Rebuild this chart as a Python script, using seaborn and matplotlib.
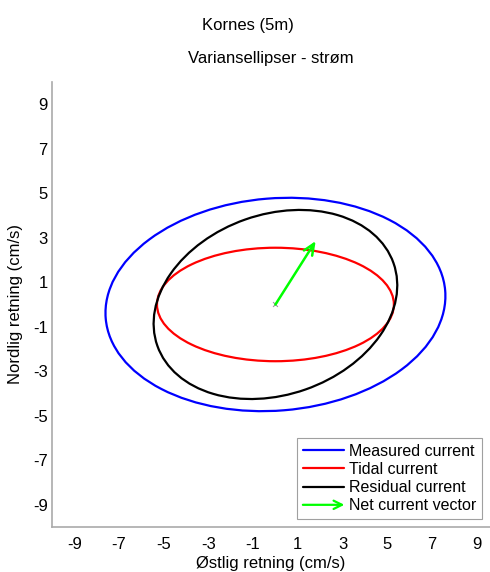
import numpy as np
import pandas as pd
import matplotlib
matplotlib.use('Agg')
import matplotlib.pyplot as plt
import seaborn as sns
from matplotlib.patches import Ellipse, FancyArrowPatch
from matplotlib.lines import Line2D
from matplotlib.legend_handler import HandlerLine2D

# variance ellipses (cm/s): semi-major, semi-minor, orientation (deg)
names = ['Measured current', 'Tidal current', 'Residual current']
colors = ['#0000ff', '#ff0000', '#000000']
semi_major = [7.62, 5.3, 5.6]
semi_minor = [4.77, 2.55, 4.05]
angle_deg = [4.7, 0.0, 19.4]

# net current vector
net_u = 1.8
net_v = 2.85

ticks = [-9, -7, -5, -3, -1, 1, 3, 5, 7, 9]

sns.set_style('white')
plt.rcParams['font.family'] = ['Liberation Sans', 'DejaVu Sans']
plt.rcParams['axes.unicode_minus'] = False
plt.rcParams['text.color'] = 'black'
plt.rcParams['axes.labelcolor'] = 'black'
plt.rcParams['xtick.color'] = 'black'
plt.rcParams['ytick.color'] = 'black'

fig = plt.figure(figsize=(4.9, 5.72), dpi=100)
ax = fig.add_axes([0.106, 0.0787, 0.894, 0.778])

for name, c, a, b, ang in zip(names, colors, semi_major, semi_minor, angle_deg):
    ax.add_patch(Ellipse((0, 0), 2 * a, 2 * b, angle=ang, fill=False,
                         edgecolor=c, lw=1.6))

origin = pd.DataFrame({'u': [0], 'v': [0]})
sns.scatterplot(data=origin, x='u', y='v', marker='x', color='#999999', s=12,
                linewidth=0.8, ax=ax, legend=False)
ax.annotate('', xy=(net_u, net_v), xytext=(0, 0),
            arrowprops=dict(arrowstyle='->,head_length=0.8,head_width=0.35',
                            color='#00ff00', lw=1.8, shrinkA=0, shrinkB=0))


class ArrowHandler(HandlerLine2D):
    def create_artists(self, legend, orig_handle, xdescent, ydescent,
                       width, height, fontsize, trans):
        y = height / 2 - ydescent
        arr = FancyArrowPatch((-xdescent, y), (width - xdescent, y),
                              arrowstyle='->,head_length=0.5,head_width=0.25',
                              color='#00ff00', lw=1.6, shrinkA=0, shrinkB=0,
                              mutation_scale=12)
        arr.set_transform(trans)
        return [arr]


handles = [Line2D([], [], color=c, lw=1.6) for c in colors]
arrow_handle = Line2D([], [], color='#00ff00', lw=1.6)
handles.append(arrow_handle)
labels = names + ['Net current vector']
leg = ax.legend(handles, labels, loc='lower right', fontsize=11.5,
                frameon=True, fancybox=False, edgecolor='#888888',
                handlelength=2.6, handletextpad=0.3, borderpad=0.35,
                labelspacing=0.2, borderaxespad=0.5,
                handler_map={arrow_handle: ArrowHandler()})
leg.get_frame().set_linewidth(0.8)

ax.set_xlim(-10, 9.6)
ax.set_ylim(-10, 10)
ax.set_xticks(ticks)
ax.set_yticks(ticks)
ax.tick_params(direction='in', length=3, color='#888888', labelsize=12)
ax.tick_params(axis='x', pad=7)
ax.tick_params(axis='y', pad=3)
for s in ['top', 'right']:
    ax.spines[s].set_visible(False)
for s in ['left', 'bottom']:
    ax.spines[s].set_color('#aaaaaa')
    ax.spines[s].set_linewidth(1.2)

ax.set_xlabel('Østlig retning (cm/s)', fontsize=12, labelpad=3)
ax.set_ylabel('Nordlig retning (cm/s)', fontsize=12, labelpad=7)
ax.set_title('Variansellipser - strøm', fontsize=12, pad=14)
fig.text(0.505, 0.955, 'Kornes (5m)', ha='center', va='center', fontsize=12)

fig.savefig('out.png', dpi=100)
